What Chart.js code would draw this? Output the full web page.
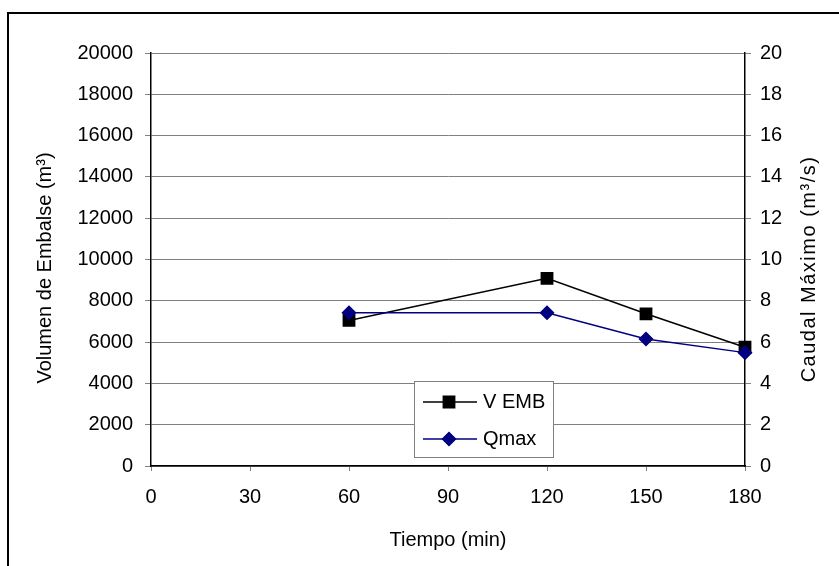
<!DOCTYPE html>
<html>
<head>
<meta charset="utf-8">
<script src="https://cdn.jsdelivr.net/npm/chart.js@4"></script>
<style>
  html, body { margin: 0; padding: 0; background: #fff; }
  #c { display: block; }
</style>
</head>
<body>
<canvas id="c" width="839" height="566"></canvas>
<script>
// ---- data ----
const times = [60, 120, 150, 180];
const vEmb = [7050, 9090, 7370, 5750];
const qMax = [7.42, 7.42, 6.15, 5.49];
const seriesNames = ['V EMB', 'Qmax'];
const xTitle = 'Tiempo (min)';
const yLeftTitle = 'Volumen de Embalse (m\u00B3)';
const yRightTitle = 'Caudal M\u00E1ximo (m\u00B3/s)';

const FONT = '"Liberation Sans", Arial, sans-serif';

const frame = {
  id: 'frame',
  afterDraw(chart) {
    const ctx = chart.ctx;
    ctx.save();
    ctx.strokeStyle = '#000';
    ctx.lineWidth = 2;
    ctx.beginPath();
    ctx.moveTo(8, 570);
    ctx.lineTo(8, 13);
    ctx.lineTo(845, 13);
    ctx.stroke();
    // y titles
    ctx.fillStyle = '#000';
    ctx.font = '20px ' + FONT;
    ctx.textAlign = 'center';
    ctx.textBaseline = 'middle';
    ctx.save();
    ctx.translate(45.5, 268);
    ctx.rotate(-Math.PI / 2);
    ctx.fillText(yLeftTitle, 0, 0);
    ctx.restore();
    ctx.save();
    ctx.translate(809, 269);
    ctx.rotate(-Math.PI / 2);
    ctx.letterSpacing = '1.5px';
    ctx.fillText(yRightTitle, 0, 0);
    ctx.restore();
    ctx.restore();
  }
};

const legendBox = {
  id: 'legendBox',
  afterDatasetsDraw(chart) {
    const ctx = chart.ctx;
    ctx.save();
    ctx.fillStyle = '#fff';
    ctx.fillRect(414, 381, 139, 76);
    ctx.strokeStyle = '#808080';
    ctx.lineWidth = 1;
    ctx.strokeRect(414.5, 381.5, 139, 76);
    const ys = [402, 439];
    chart.data.datasets.forEach((ds, i) => {
      const y = ys[i];
      ctx.strokeStyle = ds.borderColor;
      ctx.lineWidth = 1.5;
      ctx.beginPath();
      ctx.moveTo(423, y);
      ctx.lineTo(477, y);
      ctx.stroke();
      Chart.helpers.drawPoint(ctx, {
        pointStyle: ds.pointStyle, radius: ds.pointRadius, borderWidth: 1
      }, 449, y);
      ctx.fillStyle = ds.pointBackgroundColor;
      ctx.strokeStyle = ds.pointBorderColor;
      ctx.fill();
      ctx.fillStyle = '#000';
      ctx.font = '20px ' + FONT;
      ctx.textAlign = 'left';
      ctx.textBaseline = 'middle';
      ctx.fillText(ds.label, 483, y);
    });
    ctx.restore();
  }
};

new Chart(document.getElementById('c'), {
  type: 'line',
  data: {
    datasets: [
      {
        label: seriesNames[0],
        data: times.map((t, i) => ({ x: t, y: vEmb[i] })),
        yAxisID: 'y',
        borderColor: '#000000',
        backgroundColor: '#000000',
        pointBackgroundColor: '#000000',
        pointBorderColor: '#000000',
        pointStyle: 'rect',
        pointRadius: 8,
        borderWidth: 1.5,
        tension: 0,
        clip: false,
        order: 1
      },
      {
        label: seriesNames[1],
        data: times.map((t, i) => ({ x: t, y: qMax[i] })),
        yAxisID: 'y1',
        borderColor: '#000080',
        backgroundColor: '#000080',
        pointBackgroundColor: '#000080',
        pointBorderColor: '#000080',
        pointStyle: 'rectRot',
        pointRadius: 6.5,
        borderWidth: 1.5,
        tension: 0,
        clip: false,
        order: 0
      }
    ]
  },
  options: {
    responsive: false,
    animation: false,
    layout: { padding: { top: 53, left: 0, right: 0, bottom: 0 } },
    plugins: { legend: { display: false }, tooltip: { enabled: false } },
    scales: {
      x: {
        type: 'linear',
        min: 0, max: 180,
        afterFit(s) { s.height = 100; },
        ticks: { stepSize: 30, color: '#000', font: { family: FONT, size: 20 }, padding: 14, maxRotation: 0,
                 callback: v => String(v) },
        grid: { drawOnChartArea: false, tickLength: 5, tickColor: '#808080' },
        border: { color: '#000', width: 1.5 },
        title: { display: true, text: xTitle, color: '#000', font: { family: FONT, size: 20 }, padding: { top: 0, bottom: 14 } }
      },
      y: {
        position: 'left',
        min: 0, max: 20000,
        afterFit(s) { s.width = 151; },
        ticks: { stepSize: 2000, color: '#000', font: { family: FONT, size: 20 }, padding: 12,
                 callback: v => String(v) },
        grid: { color: '#808080', lineWidth: 1, tickLength: 6, tickColor: '#808080' },
        border: { color: '#000', width: 1.5 }
      },
      y1: {
        position: 'right',
        min: 0, max: 20,
        afterFit(s) { s.width = 94; },
        ticks: { stepSize: 2, color: '#000', font: { family: FONT, size: 20 }, padding: 9,
                 callback: v => String(v) },
        grid: { drawOnChartArea: false, tickLength: 6, tickColor: '#808080' },
        border: { color: '#000', width: 1.5 }
      }
    }
  },
  plugins: [frame, legendBox]
});
</script>
</body>
</html>
